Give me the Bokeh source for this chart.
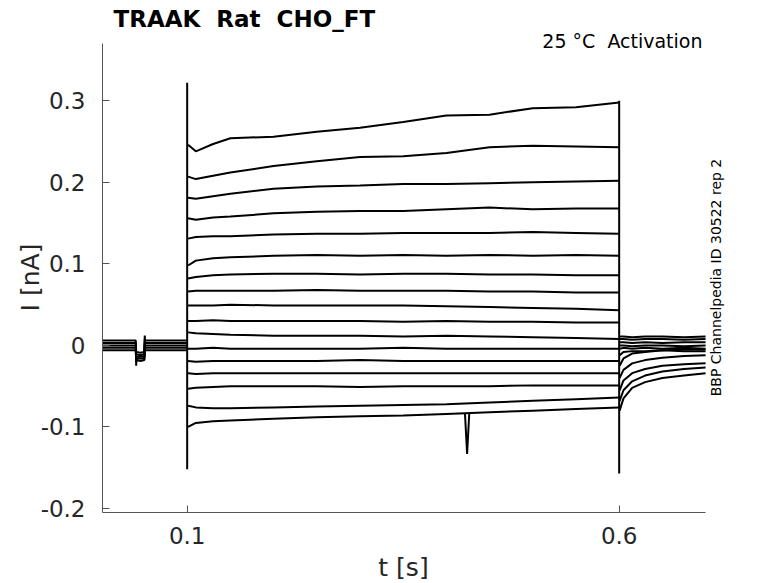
import math
from bokeh.plotting import figure
from bokeh.models import ColumnDataSource, FixedTicker, Label, Range1d
from bokeh.embed import file_html
from bokeh.resources import INLINE

FONT = "DejaVu Sans"
NB = "\u00a0"  # keeps the double spaces of the original texts visible

# ---------------- data ----------------
title_text = "TRAAK " + NB + "Rat " + NB + "CHO_FT"
condition_text = "25 °C " + NB + "Activation"
source_text = "BBP Channelpedia ID 30522 rep 2"
x_label = "t [s]"
y_label = "I [nA]"

x_ticks = [0.1, 0.6]
x_tick_labels = ["0.1", "0.6"]
y_ticks = [-0.2, -0.1, 0.0, 0.1, 0.2, 0.3]
y_tick_labels = ["-0.2", "-0.1", "0", "0.1", "0.2", "0.3"]

# holding period before the step (t in s, I in nA)
pre_t = [0.002, 0.0405, 0.0410, 0.0413, 0.0460, 0.0505, 0.0509, 0.0513, 0.1]
pre_1 = [0.006, 0.006, -0.008, -0.008, -0.009, -0.008, 0.012, 0.006, 0.006]
pre_2 = [0.003, 0.003, -0.012, -0.011, -0.012, -0.011, 0.008, 0.003, 0.003]
pre_3 = [0.000, 0.000, -0.025, -0.014, -0.014, -0.014, 0.004, 0.000, 0.000]
pre_4 = [-0.003, -0.003, -0.018, -0.016, -0.016, -0.016, 0.002, -0.003, -0.003]
pre_5 = [-0.006, -0.006, -0.020, -0.018, -0.019, -0.018, -0.002, -0.006, -0.006]

# capacitive transients at the step edges
on_t = [0.1, 0.1, 0.1]
on_i = [0.0, 0.322, -0.152]
off_t = [0.6, 0.6]
off_i = [0.300, -0.157]

# step period, one list per sweep (top to bottom)
step_t = [0.101, 0.11, 0.13, 0.15, 0.20, 0.25, 0.30, 0.35, 0.40, 0.45, 0.50, 0.55, 0.60]
sweep_01 = [0.246, 0.238, 0.247, 0.254, 0.256, 0.262, 0.267, 0.274, 0.282, 0.283, 0.291, 0.292, 0.298]
sweep_02 = [0.207, 0.204, 0.208, 0.212, 0.220, 0.226, 0.231, 0.232, 0.236, 0.243, 0.245, 0.244, 0.243]
sweep_03 = [0.181, 0.180, 0.183, 0.186, 0.192, 0.195, 0.196, 0.198, 0.198, 0.199, 0.200, 0.201, 0.202]
sweep_04 = [0.156, 0.154, 0.157, 0.158, 0.162, 0.164, 0.165, 0.165, 0.167, 0.169, 0.167, 0.168, 0.168]
sweep_05 = [0.131, 0.133, 0.134, 0.134, 0.136, 0.137, 0.137, 0.138, 0.138, 0.138, 0.139, 0.138, 0.137]
sweep_06 = [0.098, 0.104, 0.107, 0.108, 0.110, 0.111, 0.110, 0.111, 0.110, 0.111, 0.110, 0.111, 0.110]
sweep_07 = [0.082, 0.084, 0.086, 0.087, 0.088, 0.088, 0.087, 0.088, 0.088, 0.087, 0.087, 0.086, 0.086]
sweep_08 = [0.066, 0.067, 0.067, 0.067, 0.067, 0.068, 0.067, 0.067, 0.067, 0.066, 0.066, 0.065, 0.065]
sweep_09 = [0.049, 0.049, 0.049, 0.050, 0.049, 0.049, 0.049, 0.049, 0.048, 0.047, 0.046, 0.045, 0.043]
sweep_10 = [0.030, 0.030, 0.031, 0.030, 0.030, 0.030, 0.030, 0.029, 0.030, 0.029, 0.029, 0.028, 0.028]
sweep_11 = [0.016, 0.015, 0.014, 0.013, 0.012, 0.012, 0.012, 0.011, 0.012, 0.011, 0.010, 0.009, 0.008]
sweep_12 = [-0.004, -0.004, -0.003, -0.004, -0.004, -0.004, -0.004, -0.003, -0.004, -0.004, -0.004, -0.004, -0.004]
sweep_13 = [-0.019, -0.020, -0.019, -0.019, -0.019, -0.019, -0.018, -0.019, -0.019, -0.019, -0.019, -0.019, -0.019]
sweep_14 = [-0.034, -0.035, -0.034, -0.034, -0.034, -0.034, -0.034, -0.034, -0.034, -0.034, -0.034, -0.034, -0.034]
sweep_15 = [-0.053, -0.052, -0.051, -0.050, -0.050, -0.050, -0.051, -0.050, -0.050, -0.050, -0.049, -0.049, -0.049]
sweep_16 = [-0.074, -0.076, -0.077, -0.077, -0.076, -0.075, -0.074, -0.073, -0.072, -0.070, -0.068, -0.066, -0.064]
sweep_17 = [-0.100, -0.095, -0.093, -0.092, -0.090, -0.088, -0.087, -0.086, -0.084, -0.082, -0.080, -0.078, -0.076]

# artefact on the lowest sweep
spike_t = [0.4215, 0.4240, 0.4265]
spike_i = [-0.083, -0.133, -0.083]

# tails after the step
tail_t = [0.6005, 0.605, 0.615, 0.630, 0.650, 0.675, 0.700]
tail_01 = [-0.080, -0.065, -0.052, -0.045, -0.040, -0.037, -0.034]
tail_02 = [-0.068, -0.055, -0.044, -0.037, -0.032, -0.029, -0.027]
tail_03 = [-0.055, -0.043, -0.034, -0.029, -0.025, -0.023, -0.022]
tail_04 = [-0.040, -0.030, -0.022, -0.018, -0.015, -0.013, -0.012]
tail_05 = [-0.025, -0.016, -0.010, -0.008, -0.006, -0.005, -0.005]
tail_06 = [-0.012, -0.008, -0.007, -0.007, -0.006, -0.007, -0.007]
tail_07 = [-0.004, -0.003, -0.004, -0.003, -0.004, -0.003, -0.004]
tail_08 = [0.000, 0.000, -0.001, 0.000, 0.000, -0.001, 0.000]
tail_09 = [0.004, 0.004, 0.003, 0.004, 0.003, 0.004, 0.004]
tail_10 = [0.008, 0.008, 0.007, 0.008, 0.008, 0.007, 0.008]
tail_11 = [0.011, 0.011, 0.010, 0.011, 0.011, 0.010, 0.011]

sweeps = [sweep_01, sweep_02, sweep_03, sweep_04, sweep_05, sweep_06, sweep_07, sweep_08,
          sweep_09, sweep_10, sweep_11, sweep_12, sweep_13, sweep_14, sweep_15, sweep_16, sweep_17]
pres = [pre_1, pre_2, pre_3, pre_4, pre_5]
tails = [tail_01, tail_02, tail_03, tail_04, tail_05, tail_06, tail_07, tail_08, tail_09, tail_10, tail_11]

# axis extents (the drawn axes)
x_axis_span = (0.002, 0.7)
y_axis_span = (-0.2049, 0.3703)

# ---------------- figure ----------------
# The frame fills the whole canvas (770x583); the axes are drawn at fixed
# locations so that all texts can be placed freely inside the frame.
W, H = 770, 583
p = figure(width=W, height=H, output_backend="svg", toolbar_location=None,
           x_range=Range1d(-0.11606, 0.77515), y_range=Range1d(-0.29198, 0.42301),
           min_border_left=0, min_border_right=0, min_border_top=0, min_border_bottom=0)
p.outline_line_color = None
p.xgrid.visible = False
p.ygrid.visible = False
p.background_fill_color = "white"
p.border_fill_color = "white"

xs = [pre_t] * len(pres) + [on_t, off_t] + [step_t] * len(sweeps) + [spike_t] + [tail_t] * len(tails)
ys = pres + [on_i, off_i] + sweeps + [spike_i] + tails
src = ColumnDataSource(dict(xs=xs, ys=ys))
p.multi_line("xs", "ys", source=src, line_color="black", line_width=2.0)

for ax in (p.xaxis[0], p.yaxis[0]):
    ax.axis_line_color = "#555555"
    ax.major_tick_line_color = "#555555"
    ax.major_tick_in = 7
    ax.major_tick_out = 0
    ax.minor_tick_line_color = None
    ax.major_label_text_font = FONT
    ax.major_label_text_font_size = "23px"
    ax.major_label_text_color = "#262626"

p.xaxis.fixed_location = y_axis_span[0]
p.yaxis.fixed_location = x_axis_span[0]
p.xaxis.bounds = x_axis_span
p.yaxis.bounds = y_axis_span
p.xaxis.major_label_standoff = 15
p.yaxis.major_label_standoff = 17

p.xaxis.ticker = FixedTicker(ticks=x_ticks)
p.xaxis.major_label_overrides = {t: s for t, s in zip(x_ticks, x_tick_labels)}
p.yaxis.ticker = FixedTicker(ticks=y_ticks)
p.yaxis.major_label_overrides = {t: s for t, s in zip(y_ticks, y_tick_labels)}

def lab(text, x, y, size, angle=0.0, align="center", baseline="middle", bold=False, color="black"):
    # x from the left edge, y_top measured from the top of the canvas
    p.add_layout(Label(x=x, y=H - y, x_units="screen", y_units="screen", text=text,
                       angle=angle, text_align=align, text_baseline=baseline,
                       text_font=FONT, text_font_size=size, text_color=color,
                       text_font_style="bold" if bold else "normal"))

lab(title_text, 113, 18, "23px", align="left", baseline="alphabetic", bold=True)
lab(condition_text, 702, 40, "19px", align="right", baseline="alphabetic")
lab(source_text, 715, 277, "14px", angle=math.pi / 2)
lab(y_label, 30, 277, "25px", angle=math.pi / 2, color="#262626")
lab(x_label, 403, 567, "25px", color="#262626")

open("out.html", "w").write(file_html(p, INLINE))
